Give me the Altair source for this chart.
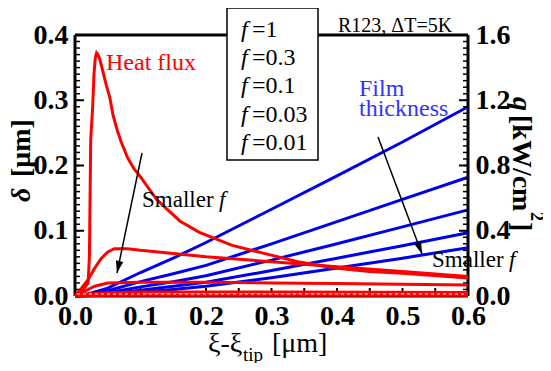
import altair as alt
import pandas as pd

W, H = 393, 261
FONT = "'Liberation Serif', 'Times New Roman', Times, serif"

F_LABELS = ["1", "0.3", "0.1", "0.03", "0.01"]

# Film thickness delta [um] (left axis), common x grid
blue_x = [0, 0.02, 0.05, 0.1, 0.15, 0.2, 0.3, 0.4, 0.5, 0.6]
blue_f1 = [0, 0.003, 0.012, 0.036, 0.058, 0.082, 0.133, 0.184, 0.236, 0.29]
blue_f03 = [0, 0.002, 0.008, 0.022, 0.034, 0.047, 0.080, 0.114, 0.148, 0.182]
blue_f01 = [0, 0.001, 0.005, 0.014, 0.022, 0.031, 0.055, 0.080, 0.106, 0.132]
blue_f003 = [0, 0.001, 0.003, 0.009, 0.015, 0.021, 0.039, 0.058, 0.077, 0.097]
blue_f001 = [0, 0.0005, 0.002, 0.006, 0.010, 0.015, 0.028, 0.043, 0.058, 0.074]

# Heat flux q [kW/cm2] (right axis)
red_f1_x = [0, 0.01, 0.02, 0.022, 0.023, 0.024, 0.027, 0.029, 0.031, 0.033, 0.035,
            0.038, 0.043, 0.048, 0.053, 0.058, 0.065, 0.07, 0.08, 0.09, 0.1, 0.125,
            0.16, 0.19, 0.24, 0.29, 0.34, 0.4, 0.45, 0.5, 0.6]
red_f1_q = [0, 0.024, 0.08, 0.24, 0.6, 0.96, 1.16, 1.36, 1.46, 1.49, 1.48,
            1.45, 1.37, 1.29, 1.22, 1.11, 1.01, 0.95, 0.85, 0.78, 0.73, 0.59,
            0.46, 0.39, 0.31, 0.26, 0.21, 0.17, 0.15, 0.14, 0.11]
red_f03_x = [0, 0.01, 0.02, 0.03, 0.04, 0.05, 0.06, 0.08, 0.1, 0.15, 0.2, 0.3, 0.4, 0.5, 0.6]
red_f03_q = [0, 0.048, 0.10, 0.17, 0.23, 0.27, 0.29, 0.29, 0.28, 0.26, 0.24, 0.21, 0.18, 0.15, 0.12]
red_f01_x = [0, 0.01, 0.02, 0.03, 0.05, 0.1, 0.2, 0.3, 0.4, 0.5, 0.6]
red_f01_q = [0, 0.016, 0.04, 0.06, 0.08, 0.084, 0.084, 0.08, 0.076, 0.072, 0.068]
red_f003_x = [0, 0.02, 0.05, 0.1, 0.3, 0.6]
red_f003_q = [0, 0.012, 0.02, 0.024, 0.024, 0.022]
red_f001_x = [0, 0.05, 0.1, 0.6]
red_f001_q = [0, 0.004, 0.004, 0.004]

X_TICKS = [0, 0.1, 0.2, 0.3, 0.4, 0.5, 0.6]
D_TICKS = [0, 0.1, 0.2, 0.3, 0.4]
Q_TICKS = [0, 0.4, 0.8, 1.2, 1.6]
X_MINOR = [i * 0.05 for i in range(13)]
D_MINOR = [i * 0.01 for i in range(41)]
Q_MINOR = [i * 0.04 for i in range(41)]

rows = []
for f, ys in zip(F_LABELS, [blue_f1, blue_f03, blue_f01, blue_f003, blue_f001]):
    for x, y in zip(blue_x, ys):
        rows.append({"x": x, "delta": y, "f": f})
df_blue = pd.DataFrame(rows)

rows = []
for f, xs, ys in zip(F_LABELS,
                     [red_f1_x, red_f03_x, red_f01_x, red_f003_x, red_f001_x],
                     [red_f1_q, red_f03_q, red_f01_q, red_f003_q, red_f001_q]):
    for i, (x, y) in enumerate(zip(xs, ys)):
        rows.append({"x": x, "q": y, "f": f, "i": i})
df_red = pd.DataFrame(rows)

xscale = alt.Scale(domain=[0, 0.6], nice=False, zero=False)
dscale = alt.Scale(domain=[0, 0.4], nice=False)
qscale = alt.Scale(domain=[0, 1.6], nice=False)

lab = dict(labelFont=FONT, labelFontSize=28, labelFontWeight="bold", labelColor="black",
           domain=False, ticks=False, grid=False, title=None, format=".1f", labelFlush=False)
xaxis = alt.Axis(values=X_TICKS, labelPadding=6, **lab)
daxis = alt.Axis(values=D_TICKS, labelPadding=7, orient="left", **lab)
qaxis = alt.Axis(values=Q_TICKS, labelPadding=7, orient="right", **lab)

one = pd.DataFrame({"a": [0]})

# ---------- delta (left) group ----------
blue = alt.Chart(df_blue).mark_line(color="#0000ee", strokeWidth=3).encode(
    x=alt.X("x:Q", scale=xscale, axis=xaxis),
    y=alt.Y("delta:Q", scale=dscale, axis=daxis),
    detail="f:N",
)
d_minor = alt.Chart(pd.DataFrame({"v": D_MINOR})).mark_rule(color="black", strokeWidth=1.5).encode(
    y=alt.Y("v:Q", scale=dscale, axis=daxis), x=alt.value(0), x2=alt.value(5))
d_major = alt.Chart(pd.DataFrame({"v": D_TICKS})).mark_rule(color="black", strokeWidth=2).encode(
    y=alt.Y("v:Q", scale=dscale, axis=daxis), x=alt.value(0), x2=alt.value(9))
x_minor = alt.Chart(pd.DataFrame({"v": X_MINOR})).mark_rule(color="black", strokeWidth=2).encode(
    x=alt.X("v:Q", scale=xscale, axis=xaxis), y=alt.value(H - 8), y2=alt.value(H))

frame = alt.Chart(one).mark_rule(color="black", strokeWidth=3).encode(
    x=alt.value(0), x2=alt.value(W), y=alt.value(0))
frame_l = alt.Chart(one).mark_rule(color="black", strokeWidth=3).encode(
    x=alt.value(0), y=alt.value(0), y2=alt.value(H))
frame_r = alt.Chart(one).mark_rule(color="black", strokeWidth=3).encode(
    x=alt.value(W), y=alt.value(0), y2=alt.value(H))
frame_b = alt.Chart(one).mark_rule(color="black", strokeWidth=3).encode(
    x=alt.value(0), x2=alt.value(W), y=alt.value(H))

left_group = alt.layer(frame, frame_l, frame_r, frame_b, d_minor, d_major, x_minor, blue)

# ---------- q (right) group ----------
red = alt.Chart(df_red).mark_line(color="#ff0000", strokeWidth=3).encode(
    x=alt.X("x:Q", scale=xscale, axis=xaxis),
    y=alt.Y("q:Q", scale=qscale, axis=qaxis),
    detail="f:N", order="i:Q",
)
q_minor = alt.Chart(pd.DataFrame({"v": Q_MINOR})).mark_rule(color="black", strokeWidth=1.5).encode(
    y=alt.Y("v:Q", scale=qscale, axis=qaxis), x=alt.value(W - 5), x2=alt.value(W))
q_major = alt.Chart(pd.DataFrame({"v": Q_TICKS})).mark_rule(color="black", strokeWidth=2).encode(
    y=alt.Y("v:Q", scale=qscale, axis=qaxis), x=alt.value(W - 9), x2=alt.value(W))
right_group = alt.layer(q_minor, q_major, red)

# thin white dashed line between the lowest red curves (as in the original)
white_dash = alt.Chart(one).mark_rule(color="white", strokeWidth=1, strokeDash=[3, 3]).encode(
    x=alt.value(2), x2=alt.value(W - 2), y=alt.value(H - 2))

# ---------- annotations (pixel positions relative to plot origin) ----------
def txt(s, x, y, size=23, color="black", style="normal", weight="normal", angle=0, align="left"):
    return alt.Chart(one).mark_text(
        text=s, font=FONT, fontSize=size, color=color, fontStyle=style, fontWeight=weight,
        angle=angle, align=align, baseline="alphabetic"
    ).encode(x=alt.value(x), y=alt.value(y))

def arrow(x1, y1, x2, y2, ang):
    line = alt.Chart(one).mark_rule(color="black", strokeWidth=1.5).encode(
        x=alt.value(x1), y=alt.value(y1), x2=alt.value(x2), y2=alt.value(y2))
    head = alt.Chart(one).mark_point(
        shape="M0,0L-0.4,-1.3L0.4,-1.3Z", size=350, filled=True, color="black", opacity=1,
        strokeWidth=0, angle=ang
    ).encode(x=alt.value(x2), y=alt.value(y2))
    return [line, head]

ann = [white_dash]
ann.append(txt("Heat flux", 31, 35, size=24, color="#ff0000"))
ann.append(txt("Film", 284, 61, size=24, color="#3333ff"))
ann.append(txt("thickness", 284, 81, size=24, color="#3333ff"))
ann.append(txt("Smaller", 67, 172))
ann.append(txt("f", 144, 172, style="italic"))
ann.append(txt("Smaller", 357, 232))
ann.append(txt("f", 434, 232, style="italic"))
ann.append(txt("R123, \u0394T=5K", 263, -3, size=20))
ann += arrow(67, 118, 42, 238, 12)
ann += arrow(303, 102, 347, 219, 339)

legend_box = alt.Chart(one).mark_rect(fill="white", stroke="black", strokeWidth=1.5).encode(
    x=alt.value(152), x2=alt.value(243), y=alt.value(-27), y2=alt.value(125))
ann.append(legend_box)
for k, f in enumerate(F_LABELS):
    yb = 2 + 28.2 * k
    ann.append(txt("f", 166, yb, size=24, style="italic"))
    ann.append(txt("=" + f, 177, yb, size=24))

# axis titles
ann.append(txt("\u03b4", -45, 167, size=28, style="italic", weight="bold", angle=270))
ann.append(txt("[\u03bcm]", -45, 142, size=28, weight="bold", angle=270))
ann.append(txt("q", 438, 62, size=28, style="italic", weight="bold", angle=90))
ann.append(txt("[kW/cm", 438, 80, size=28, weight="bold", angle=90))
ann.append(txt("2", 456, 177, size=18, weight="bold", angle=90))
ann.append(txt("]", 438, 187, size=28, weight="bold", angle=90))
ann.append(txt("\u03be-\u03be", 133, 317, size=28))
ann.append(txt("tip", 168, 326, size=19))
ann.append(txt("[\u03bcm]", 197, 317, size=28))

chart = alt.layer(left_group, right_group, *ann).resolve_scale(y="independent").properties(
    width=W, height=H,
    padding={"left": 67, "top": 27, "right": 75, "bottom": 67},
    autosize=alt.AutoSizeParams(type="none"),
    background="white",
).configure_view(strokeWidth=0)

chart.save("out.html", embed_options={"renderer": "svg", "actions": False})
